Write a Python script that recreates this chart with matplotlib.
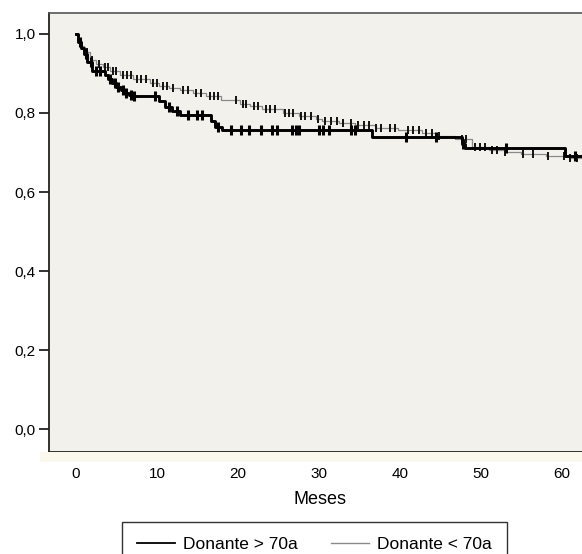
import matplotlib
matplotlib.use('Agg')
import matplotlib.pyplot as plt
from matplotlib.patches import Rectangle
import numpy as np

plt.rcParams['font.family'] = ['Liberation Sans', 'DejaVu Sans']

# Donante > 70a : step times (months) and survival after each step
old_times = [0, 0.3, 0.6, 1.0, 1.4, 2.0, 3.6, 4.0, 4.5, 5.0, 5.5, 6.0, 6.5, 7.0,
             10.3, 11.0, 11.8, 12.8, 16.7, 17.2, 18.0, 36.5, 47.6, 48.0, 60.4]
old_surv = [1.0, 0.98, 0.965, 0.95, 0.93, 0.905, 0.895, 0.885, 0.875, 0.865, 0.858,
            0.85, 0.845, 0.842, 0.83, 0.815, 0.805, 0.796, 0.78, 0.765, 0.758,
            0.738, 0.722, 0.712, 0.69]
old_censor = [0.5, 1.2, 1.8, 2.5, 3.0, 4.2, 4.8, 5.2, 5.8, 6.2, 6.8, 7.2, 9.7,
              11.5, 12.5, 13.8, 14.9, 15.6, 17.5, 19.2, 20.4, 21.4, 22.9, 24.2,
              24.8, 26.7, 27.2, 27.5, 30.0, 30.5, 31.2, 34.0, 34.4, 40.7, 44.4,
              47.8, 53.1, 61.6]
old_end = 62.4

# Donante < 70a
young_times = [0, 0.3, 0.6, 1.0, 1.7, 2.5, 3.3, 4.2, 5.4, 7.0, 9.1, 10.3, 11.5,
               12.8, 14.4, 16.1, 17.9, 20.2, 21.5, 23.0, 25.5, 27.5, 29.6, 30.4,
               32.5, 34.5, 37.0, 39.8, 42.7, 44.5, 46.8, 48.9, 51.0, 53.0, 55.0,
               58.0, 61.0]
young_surv = [1.0, 0.985, 0.97, 0.955, 0.935, 0.925, 0.915, 0.905, 0.895, 0.885,
              0.876, 0.869, 0.864, 0.858, 0.851, 0.842, 0.832, 0.823, 0.817, 0.81,
              0.80, 0.792, 0.784, 0.779, 0.774, 0.769, 0.763, 0.757, 0.75, 0.742,
              0.733, 0.713, 0.707, 0.701, 0.695, 0.692, 0.687]
young_censor = [0.8, 1.3, 2.0, 2.8, 3.6, 4.0, 4.6, 5.0, 5.8, 6.3, 6.8, 7.5, 8.0,
                8.6, 9.5, 10.0, 10.8, 11.2, 12.0, 13.2, 13.8, 14.8, 15.4, 16.5,
                17.0, 17.5, 19.8, 20.6, 21.0, 22.0, 22.5, 23.5, 24.0, 24.6, 25.8,
                26.3, 26.8, 27.8, 28.3, 29.0, 29.9, 30.8, 31.5, 32.2, 33.0, 34.0,
                34.8, 35.5, 36.2, 37.0, 37.6, 38.8, 39.4, 41.0, 41.6, 42.3, 43.2,
                44.0, 44.8, 47.6, 48.2, 49.3, 49.9, 50.5, 51.3, 52.0, 53.0, 55.2,
                56.4, 58.3, 60.2, 61.0, 61.8]
young_end = 62.4

x_ticks = [0, 10, 20, 30, 40, 50, 60]
y_ticks = [0.0, 0.2, 0.4, 0.6, 0.8, 1.0]
y_labels = ['0,0', '0,2', '0,4', '0,6', '0,8', '1,0']


def surv_at(times, surv, t):
    idx = np.searchsorted(times, t, side='right') - 1
    return np.asarray(surv)[idx]


fig = plt.figure(figsize=(5.82, 5.54), dpi=100)
ax = fig.add_axes([49 / 582, 1 - 451.7 / 554, 533 / 582, 439.2 / 554])
ax.set_facecolor('#f3f1eb')

# light band under the plot area
fig.patches.append(Rectangle((40 / 582, 1 - 461.7 / 554), 542 / 582, 10 / 554,
                             transform=fig.transFigure, facecolor='#fbf9ee',
                             edgecolor='none', zorder=0))

# younger donors: thin grey line with censor ticks
yt = young_times + [young_end]
ys = young_surv + [young_surv[-1]]
ax.plot(yt, ys, drawstyle='steps-post', color='#8a8a8a', lw=0.9,
        label='Donante < 70a', zorder=2)
ax.plot(young_censor, surv_at(young_times, young_surv, young_censor),
        ls='none', marker='|', ms=6, mew=1.4, color='#111111', zorder=3)

# older donors: thick black line with censor crosses
ot = old_times + [old_end]
os_ = old_surv + [old_surv[-1]]
ax.plot(ot, os_, drawstyle='steps-post', color='black', lw=2.1,
        label='Donante > 70a', zorder=4)
ax.plot(old_censor, surv_at(old_times, old_surv, old_censor),
        ls='none', marker='|', ms=7.5, mew=2.2, color='black', zorder=5)

ax.set_xlim(-3.33, 62.47)
ax.set_ylim(-0.0567, 1.054)
ax.set_xticks(x_ticks)
ax.set_xticklabels([str(v) for v in x_ticks])
ax.set_yticks(y_ticks)
ax.set_yticklabels(y_labels)
ax.tick_params(axis='both', direction='out', length=7.2, width=1.3,
               labelsize=11, color='#222222')
ax.tick_params(axis='x', pad=4.0)
ax.tick_params(axis='y', pad=2.5)

ax.spines['right'].set_visible(False)
ax.spines['left'].set_linewidth(1.3)
ax.spines['bottom'].set_linewidth(1.3)
ax.spines['top'].set_linewidth(1.2)
ax.spines['top'].set_color('#555555')
ax.spines['left'].set_color('#222222')
ax.spines['bottom'].set_color('#222222')

fig.text(320 / 582, 1 - 500 / 554, 'Meses', ha='center', va='center',
         fontsize=13)

handles, labels = ax.get_legend_handles_labels()
leg = fig.legend(handles[::-1], labels[::-1], loc='upper center',
                 bbox_to_anchor=(314.5 / 582, 1 - 521.7 / 554),
                 bbox_transform=fig.transFigure, ncol=2, fontsize=12.5,
                 frameon=True, fancybox=False, edgecolor='black',
                 handlelength=2.2, handletextpad=0.45, columnspacing=1.9,
                 borderpad=0.85, borderaxespad=0)
leg.get_frame().set_linewidth(1.0)
leg.get_frame().set_facecolor('white')
for line in leg.get_lines():
    line.set_linewidth(1.3 if line.get_color() == 'black' else 1.0)

fig.savefig('out.png', dpi=100)
